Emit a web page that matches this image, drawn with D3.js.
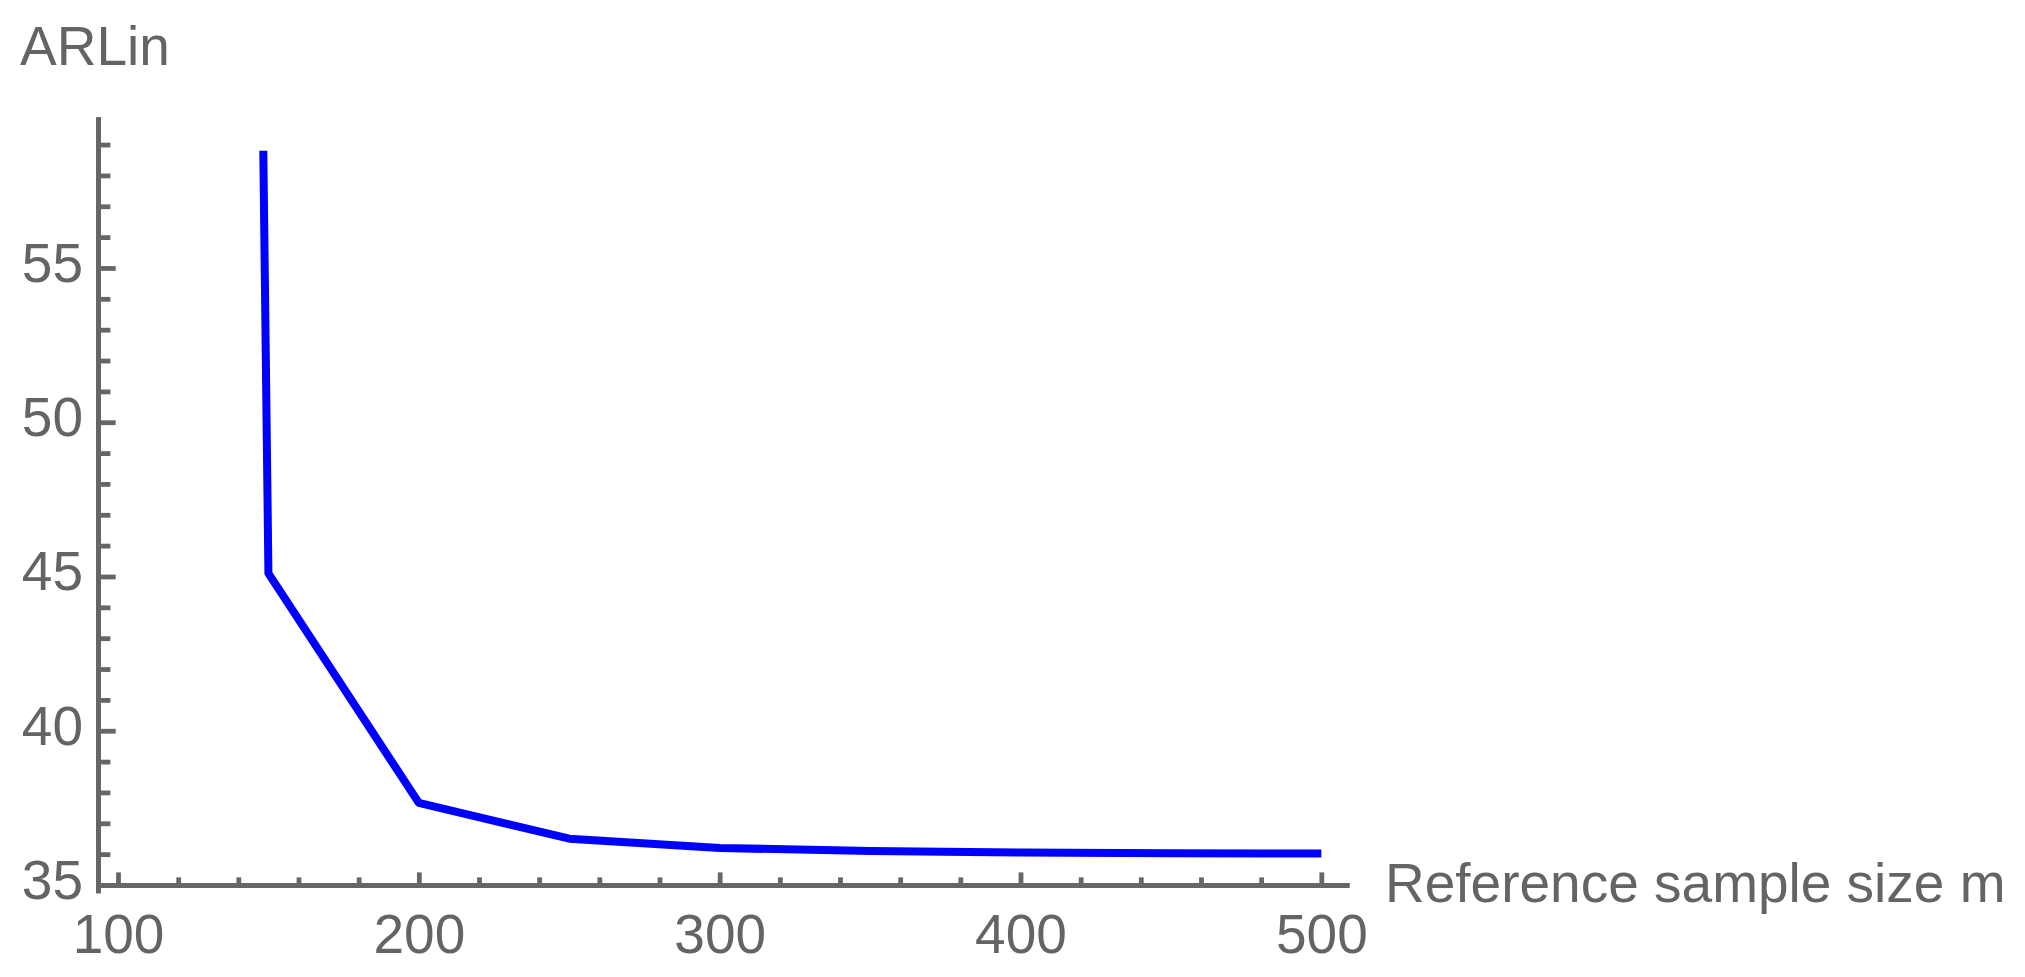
<!DOCTYPE html>
<html lang="en">
<head>
    <meta charset="UTF-8">
    <title>ARLin vs Reference sample size</title>
    <script src="https://d3js.org/d3.v7.min.js"></script>
    <style>
        body {
            margin: 0;
            background-color: #ffffff;
        }
        svg {
            display: block;
            font-family: "Liberation Sans", Arial, sans-serif;
        }
        .axis path,
        .axis line {
            stroke: #666666;
            stroke-width: 4.8px;
        }
        .axis text {
            fill: #646464;
            font-size: 55px;
        }
        .axis-label {
            fill: #646464;
            font-size: 55px;
        }
    </style>
</head>
<body>
    <div id="chart"></div>

    <script>
        // values
        const sampleSizes = [148.3, 150, 200, 250, 300, 350, 400, 450, 500];
        const arlValues = [58.8, 45.1, 37.66, 36.5, 36.2, 36.1, 36.05, 36.03, 36.02];

        const xTickValues = [100, 200, 300, 400, 500];
        const yTickValues = [35, 40, 45, 50, 55];

        const width = 2025, height = 977;

        const svg = d3.select("#chart")
            .append("svg")
            .attr("width", width)
            .attr("height", height);

        // axis extent (data units) like the Mathematica plot range with padding
        const x = d3.scaleLinear()
            .domain([93.35, 509.2])
            .range([98, 1349]);

        const y = d3.scaleLinear()
            .domain([34.75, 59.9])
            .range([892.7, 116.8]);

        const xMinor = d3.range(120, 500, 20).filter(v => v % 100 !== 0);
        const yMinor = d3.range(36, 60, 1).filter(v => v % 5 !== 0);

        // the x axis sits at ARLin = 35, its line starts at the y axis
        const xAxisScale = x.copy();

        svg.append("g")
            .attr("class", "axis")
            .attr("transform", `translate(0,${y(35)})`)
            .call(d3.axisBottom(xAxisScale).tickValues(xMinor).tickSizeInner(-7.6).tickSizeOuter(0).tickFormat(""));

        svg.append("g")
            .attr("class", "axis")
            .attr("transform", `translate(${x(93.35)},0)`)
            .call(d3.axisLeft(y).tickValues(yMinor).tickSizeInner(-12.4).tickSizeOuter(0).tickFormat(""));

        svg.append("g")
            .attr("class", "axis")
            .attr("transform", `translate(0,${y(35)})`)
            .call(d3.axisBottom(xAxisScale).tickValues(xTickValues).tickSizeInner(-12.6).tickSizeOuter(0).tickPadding(29));

        const yAxis = svg.append("g")
            .attr("class", "axis")
            .attr("transform", `translate(${x(93.35)},0)`)
            .call(d3.axisLeft(y).tickValues(yTickValues).tickSizeInner(-17.7).tickSizeOuter(0).tickPadding(15));

        yAxis.selectAll("text").attr("dy", "0.245em");
        svg.selectAll(".axis").attr("font-family", null).attr("font-size", null);

        // the curve
        const line = d3.line()
            .x((d, i) => x(sampleSizes[i]))
            .y(d => y(d));

        svg.append("path")
            .datum(arlValues)
            .attr("d", line)
            .attr("fill", "none")
            .attr("stroke", "#0000ff")
            .attr("stroke-width", 8)
            .attr("stroke-linejoin", "round");

        // axis labels
        svg.append("text")
            .attr("class", "axis-label")
            .attr("x", 20)
            .attr("y", 65)
            .text("ARLin");

        svg.append("text")
            .attr("class", "axis-label")
            .attr("x", 1385)
            .attr("y", 902)
            .text("Reference sample size m");
    </script>
</body>
</html>
